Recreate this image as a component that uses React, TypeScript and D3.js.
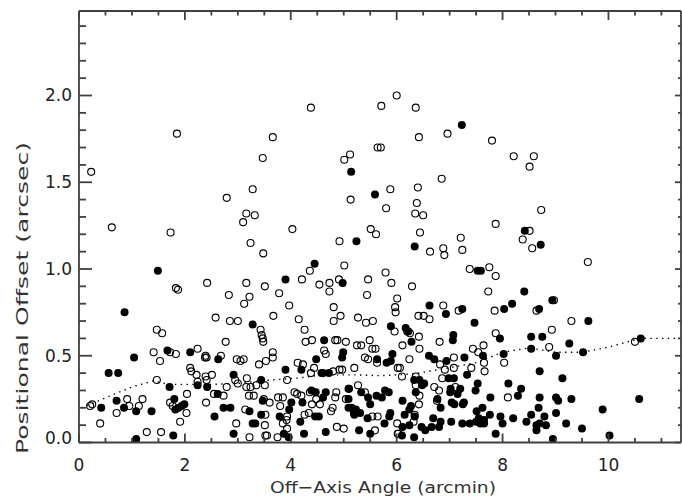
import React from "react";
import * as d3 from "d3";

// Open circles: [off-axis angle (arcmin), positional offset (arcsec)]
const openPoints: [number, number][] = [
  [0.23,1.56],[0.62,1.24],[1.85,1.78],[1.73,1.21],[1.83,0.89],[1.87,0.88],[2.42,0.92],[2.79,1.41],
  [2.83,0.85],[2.85,0.70],[3.0,0.70],[3.1,1.27],[3.16,1.32],[3.28,1.46],[3.32,1.31],[3.24,1.15],
  [3.16,0.92],[3.22,0.84],[3.12,0.80],[3.47,1.64],[3.66,1.76],[3.48,1.09],[3.51,0.90],[3.67,0.73],
  [3.78,0.86],[3.97,0.79],[4.03,1.23],[4.21,0.94],[4.36,0.99],[4.38,1.93],[4.15,0.71],[4.26,0.65],
  [4.54,0.91],[4.73,0.92],[4.73,0.87],[4.81,0.78],[4.81,0.70],[4.94,0.73],[4.91,0.94],[4.92,1.16],
  [5.01,1.63],[5.12,1.66],[5.13,1.40],[5.01,1.02],[5.27,0.72],[5.42,0.69],[5.46,0.94],[5.44,0.85],
  [5.51,1.23],[5.61,1.20],[5.64,1.70],[5.70,1.70],[5.71,1.94],[5.88,1.46],[5.80,1.35],[5.79,0.98],
  [5.90,0.92],[6.01,0.83],[5.97,0.78],[5.98,0.75],[5.55,0.70],[6.0,2.0],[6.36,1.93],[6.42,1.76],
  [6.40,1.47],[6.38,1.38],[6.35,1.32],[6.50,1.31],[6.44,1.21],[6.63,1.10],[6.29,0.90],[6.41,0.73],
  [6.51,0.73],[6.62,0.71],[6.85,1.52],[6.96,1.78],[6.88,1.12],[6.90,1.08],[7.21,1.18],[7.24,1.11],
  [7.38,1.0],[7.75,1.01],[7.87,0.96],[7.73,0.87],[7.80,1.74],[7.87,1.26],[6.88,0.79],[7.17,0.76],
  [7.85,0.76],[8.21,1.65],[8.59,1.65],[8.51,1.59],[8.73,1.34],[8.38,1.17],[8.51,1.22],[8.56,1.12],
  [8.97,0.82],[8.64,0.76],[9.30,0.70],[9.61,1.04],[8.93,0.65],[7.87,0.63],[10.50,0.58],[8.88,0.55],
  [8.03,0.46],[8.10,0.26],[7.64,0.56],[7.44,0.54],[7.54,0.52],[7.65,0.46],[7.41,0.43],[7.66,0.41],
  [6.81,0.58],[7.08,0.49],[7.08,0.43],[6.91,0.42],[6.82,0.45],[6.86,0.37],[7.11,0.32],[6.43,0.54],
  [6.42,0.61],[6.24,0.48],[6.11,0.56],[6.02,0.43],[6.10,0.38],[6.20,0.64],[6.25,0.63],[5.96,0.64],
  [5.33,0.56],[5.60,0.54],[5.54,0.54],[5.49,0.59],[5.40,0.49],[5.46,0.48],[5.20,0.43],[5.25,0.56],
  [5.04,0.58],[4.63,0.53],[4.66,0.51],[4.84,0.59],[4.88,0.59],[4.92,0.42],[4.97,0.42],[4.80,0.41],
  [4.61,0.40],[4.44,0.43],[4.38,0.40],[4.28,0.58],[4.40,0.59],[4.13,0.46],[4.23,0.45],[4.36,0.29],
  [4.07,0.29],[3.93,0.36],[3.80,0.21],[3.85,0.26],[3.76,0.26],[3.66,0.52],[3.66,0.49],[3.53,0.47],
  [3.40,0.45],[3.45,0.62],[3.47,0.60],[3.48,0.58],[3.43,0.65],[3.11,0.48],[3.05,0.47],[2.98,0.48],
  [2.95,0.36],[3.0,0.34],[3.17,0.37],[3.24,0.32],[3.35,0.33],[3.16,0.32],[3.21,0.27],[3.30,0.27],
  [3.14,0.19],[3.51,0.33],[3.49,0.25],[3.60,0.23],[3.52,0.16],[3.51,0.10],[3.55,0.04],[3.52,0.04],
  [3.22,0.03],[2.97,0.11],[2.79,0.32],[2.73,0.27],[2.58,0.72],[2.77,0.58],[2.68,0.50],[2.55,0.28],
  [2.51,0.39],[2.39,0.50],[2.41,0.49],[2.38,0.49],[2.24,0.54],[2.10,0.43],[2.12,0.41],[2.22,0.39],
  [2.24,0.35],[2.39,0.38],[2.41,0.36],[2.40,0.23],[2.04,0.28],[2.03,0.17],[1.91,0.12],[1.72,0.23],
  [1.77,0.21],[1.83,0.51],[1.72,0.52],[1.41,0.52],[1.53,0.47],[1.47,0.65],[1.57,0.63],[1.47,0.36],
  [1.20,0.25],[1.13,0.21],[0.91,0.25],[0.95,0.21],[0.71,0.17],[0.40,0.11],[0.21,0.21],[0.25,0.22],
  [1.28,0.06],[1.55,0.06],[3.75,0.03],[3.85,0.11],[3.92,0.13],[3.93,0.15],[3.93,0.08],[4.12,0.28],
  [4.20,0.27],[4.26,0.16],[4.34,0.17],[4.40,0.22],[4.55,0.22],[4.48,0.25],[4.79,0.20],[4.76,0.18],
  [4.87,0.09],[5.0,0.08],[4.84,0.26],[4.86,0.29],[5.04,0.25],[5.10,0.31],[5.27,0.33],[5.54,0.15],
  [5.59,0.07],[5.64,0.15],[5.63,0.46],[5.40,0.29],[6.01,0.11],[6.02,0.05],[6.03,0.05],[6.32,0.12],
  [6.36,0.38],[6.36,0.33],[6.34,0.16],[6.43,0.27],[6.42,0.22],[6.06,0.43],[6.76,0.24],[6.80,0.30],
  [6.71,0.32]
];

// Filled circles
const filledPoints: [number, number][] = [
  [0.56,0.40],[0.74,0.40],[0.86,0.75],[1.04,0.49],[1.49,0.99],[1.67,0.53],[2.10,0.52],[2.63,0.48],
  [3.28,0.68],[3.90,0.94],[4.45,1.03],[4.98,0.92],[5.14,1.56],[5.24,1.16],[5.59,1.43],[6.34,1.13],
  [7.23,1.83],[8.42,1.22],[8.72,1.14],[7.53,0.99],[7.59,0.99],[8.41,0.87],[8.18,0.80],[8.03,0.77],
  [8.94,0.82],[8.69,0.77],[7.24,0.77],[6.93,0.74],[6.62,0.79],[7.47,0.69],[9.62,0.70],[8.54,0.61],
  [8.75,0.61],[7.95,0.60],[7.07,0.62],[7.06,0.59],[9.26,0.57],[10.61,0.60],[8.54,0.54],[8.02,0.51],
  [7.63,0.50],[7.28,0.49],[9.01,0.50],[9.52,0.52],[8.70,0.41],[9.13,0.37],[8.35,0.31],[8.11,0.34],
  [8.29,0.27],[8.70,0.26],[9.01,0.26],[9.05,0.24],[9.30,0.25],[10.58,0.25],[9.89,0.19],[8.68,0.20],
  [9.01,0.17],[8.79,0.15],[8.54,0.16],[8.45,0.12],[8.20,0.14],[7.96,0.15],[8.0,0.11],[8.64,0.10],
  [8.82,0.10],[8.70,0.11],[9.20,0.11],[9.50,0.08],[8.64,0.07],[7.87,0.05],[8.95,0.02],[10.02,0.04],
  [7.77,0.26],[7.76,0.16],[7.62,0.20],[7.51,0.18],[7.55,0.14],[7.50,0.12],[7.53,0.34],[7.49,0.30],
  [7.25,0.22],[7.27,0.23],[7.09,0.22],[7.04,0.23],[7.15,0.28],[7.02,0.31],[7.01,0.29],[7.20,0.31],
  [6.98,0.37],[7.08,0.37],[7.33,0.39],[6.71,0.48],[6.61,0.50],[6.94,0.47],[6.77,0.25],[6.83,0.20],
  [6.69,0.14],[6.83,0.12],[7.03,0.12],[7.24,0.11],[7.38,0.11],[7.58,0.11],[7.65,0.11],[7.65,0.13],
  [6.80,0.09],[6.66,0.09],[6.54,0.07],[6.47,0.09],[6.24,0.10],[6.11,0.09],[6.10,0.04],[6.33,0.03],
  [5.50,0.05],[5.29,0.07],[4.66,0.06],[4.25,0.05],[3.96,0.03],[3.87,0.05],[2.92,0.05],[1.78,0.04],
  [1.08,0.02],[5.77,0.11],[5.45,0.14],[5.31,0.17],[5.20,0.16],[5.23,0.19],[5.15,0.20],[5.19,0.17],
  [5.09,0.20],[5.09,0.25],[5.09,0.31],[5.33,0.29],[5.46,0.26],[5.50,0.22],[5.62,0.27],[5.72,0.26],
  [5.88,0.17],[5.86,0.15],[6.11,0.24],[6.24,0.19],[6.27,0.21],[6.34,0.15],[6.15,0.16],[6.43,0.36],
  [6.33,0.36],[6.48,0.33],[6.52,0.34],[6.36,0.29],[5.85,0.29],[5.78,0.30],[5.89,0.47],[5.92,0.51],
  [5.81,0.46],[5.63,0.48],[5.89,0.67],[6.17,0.66],[6.22,0.64],[6.28,0.58],[4.63,0.59],[4.48,0.48],
  [4.99,0.52],[4.97,0.49],[4.58,0.40],[4.72,0.40],[4.61,0.26],[4.47,0.29],[4.66,0.29],[4.20,0.42],
  [4.18,0.12],[4.46,0.15],[4.53,0.15],[4.22,0.23],[4.01,0.23],[3.79,0.15],[3.97,0.19],[4.39,0.30],
  [3.90,0.42],[3.47,0.24],[3.44,0.36],[3.33,0.11],[3.28,0.11],[3.22,0.18],[3.44,0.16],[2.92,0.39],
  [2.86,0.20],[2.73,0.20],[2.56,0.15],[2.62,0.28],[2.42,0.32],[2.24,0.33],[1.99,0.22],[1.94,0.21],
  [1.88,0.20],[1.80,0.25],[1.82,0.19],[1.71,0.32],[1.37,0.18],[1.08,0.18],[0.85,0.20],[0.71,0.24],
  [0.42,0.20]
];

// Dotted running curve
const curveX = [0.05, 0.6, 1.0, 1.4, 1.7, 2.5, 3.0, 3.6, 4.1, 4.6, 5.2, 5.7, 6.3, 6.9, 7.5, 8.0, 8.5, 9.0, 9.5, 10.0, 10.6, 11.37];
const curveY = [0.2, 0.27, 0.32, 0.355, 0.335, 0.335, 0.34, 0.36, 0.37, 0.39, 0.39, 0.385, 0.395, 0.425, 0.46, 0.52, 0.545, 0.52, 0.52, 0.55, 0.6, 0.6];

const xMajorTicks = [0, 2, 4, 6, 8, 10];
const xTickLabels = ["0", "2", "4", "6", "8", "10"];
const yMajorTicks = [0, 0.5, 1.0, 1.5, 2.0];
const yTickLabels = ["0.0", "0.5", "1.0", "1.5", "2.0"];
const xLabel = "Off\u2212Axis Angle (arcmin)";
const yLabel = "Positional Offset (arcsec)";

const W = 682, H = 497;
const L = 79, R = 681, T = 11, B = 442.5;
const X_MAX = 11.37, Y_MAX = 2.487;

export default function App() {
  const x = d3.scaleLinear().domain([0, X_MAX]).range([L, R]);
  const y = d3.scaleLinear().domain([0, Y_MAX]).range([B, T]);
  const xMinor = d3.range(0, 23, 1).map((v) => v / 2);
  const yMinor = d3.range(0, 25, 1).map((v) => v / 10);
  const isMajorY = (v: number) => Math.abs(v * 2 - Math.round(v * 2)) < 1e-6;
  const isMajorX = (v: number) => Math.abs(v / 2 - Math.round(v / 2)) < 1e-6;
  const line = d3
    .line<number>()
    .x((_, i) => x(curveX[i]))
    .y((d) => y(d));

  const font = "'DejaVu Sans', 'Liberation Sans', sans-serif";
  return (
    <svg
      width={W}
      height={H}
      viewBox={`0 0 ${W} ${H}`}
      style={{ position: "absolute", left: 0, top: 0, display: "block" }}
    >
      <rect x={0} y={0} width={W} height={H} fill="#ffffff" />
      <g>
        {openPoints.map((p, i) => (
          <circle key={"o" + i} cx={x(p[0])} cy={y(p[1])} r={3.5} fill="none" stroke="#000" strokeWidth={1.1} />
        ))}
        {filledPoints.map((p, i) => (
          <circle key={"f" + i} cx={x(p[0])} cy={y(p[1])} r={4} fill="#000" />
        ))}
      </g>
      <path d={line(curveY) || ""} fill="none" stroke="#000" strokeWidth={1.4} strokeDasharray="1.4 4.4" />
      <g stroke="#404040" strokeWidth={1.8} fill="none">
        <line x1={L} y1={T} x2={R} y2={T} />
        <line x1={L} y1={B} x2={R} y2={B} />
        <line x1={L} y1={T} x2={L} y2={B} />
        <line x1={R} y1={T} x2={R} y2={B} />
        {xMinor.map((v) => {
          const len = isMajorX(v) ? 9 : 4.5;
          return (
            <g key={"xt" + v}>
              <line x1={x(v)} y1={B} x2={x(v)} y2={B - len} />
              <line x1={x(v)} y1={T} x2={x(v)} y2={T + len} />
            </g>
          );
        })}
        {yMinor.map((v) => {
          const len = isMajorY(v) ? 13 : 7;
          return (
            <g key={"yt" + v}>
              <line x1={L} y1={y(v)} x2={L + len} y2={y(v)} />
              <line x1={R} y1={y(v)} x2={R - (isMajorY(v) ? 6 : 3)} y2={y(v)} />
            </g>
          );
        })}
      </g>
      {xMajorTicks.map((v, i) => (
        <text key={"xl" + v} x={x(v)} y={464.5} textAnchor="middle" dominantBaseline="central" fontFamily={font} fontSize={17} fill="#222">
          {xTickLabels[i]}
        </text>
      ))}
      {yMajorTicks.map((v, i) => (
        <text key={"yl" + v} x={72} y={Math.min(y(v), 437.5)} textAnchor="end" dominantBaseline="central" fontFamily={font} fontSize={17} fill="#222">
          {yTickLabels[i]}
        </text>
      ))}
      <text x={383} y={487} textAnchor="middle" dominantBaseline="central" fontFamily={font} fontSize={16.5} fill="#333" textLength={226} lengthAdjust="spacingAndGlyphs">
        {xLabel}
      </text>
      <text
        transform={`translate(22, 298) rotate(-90)`}
        textAnchor="middle"
        dominantBaseline="central"
        fontFamily={font}
        fontSize={16.5}
        fill="#333"
        textLength={312}
        lengthAdjust="spacingAndGlyphs"
      >
        {yLabel}
      </text>
    </svg>
  );
}
